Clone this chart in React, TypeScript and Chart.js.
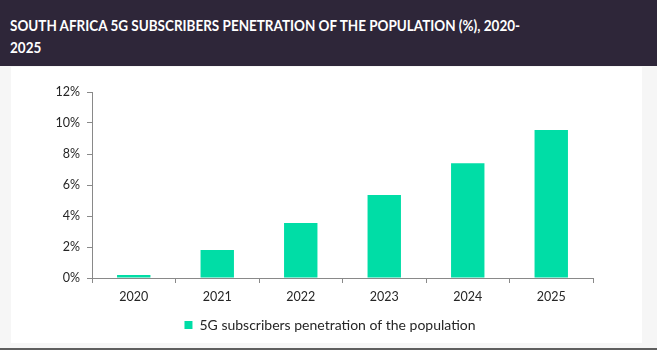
import React, { useEffect, useRef } from "react";
import { Chart, registerables } from "chart.js";

Chart.register(...registerables);

const titleLine1 = "SOUTH AFRICA 5G SUBSCRIBERS PENETRATION OF THE POPULATION (%), 2020-";
const titleLine2 = "2025";
const categories = ["2020", "2021", "2022", "2023", "2024", "2025"];
const seriesLabel = "5G subscribers penetration of the population";
const seriesValues = [0.2, 1.8, 3.55, 5.35, 7.4, 9.55];
const yTicks = [0, 2, 4, 6, 8, 10, 12];

const FONT = "Lato, 'Open Sans', sans-serif";
const AXIS_COLOR = "#898989";
const TEXT_COLOR = "#262626";
const BAR_COLOR = "#00DDA6";

export default function App() {
  const canvasRef = useRef<HTMLCanvasElement | null>(null);

  useEffect(() => {
    document.body.style.margin = "0";
    const ctx = canvasRef.current;
    if (!ctx) return;
    const chart = new Chart(ctx, {
      type: "bar",
      data: {
        labels: categories,
        datasets: [
          {
            label: seriesLabel,
            data: seriesValues,
            backgroundColor: BAR_COLOR,
            borderWidth: 0,
            barPercentage: 0.4,
            categoryPercentage: 1,
          },
        ],
      },
      options: {
        animation: false,
        responsive: false,
        maintainAspectRatio: false,
        devicePixelRatio: 1,
        layout: { padding: { top: 25, right: 0, left: 7, bottom: 1 } },
        plugins: {
          tooltip: { enabled: false },
          legend: {
            position: "bottom",
            labels: {
              boxWidth: 8,
              boxHeight: 8,
              padding: 10,
              color: TEXT_COLOR,
              font: { family: FONT, size: 14 },
            },
          },
        },
        scales: {
          x: {
            offset: true,
            grid: {
              offset: true,
              drawOnChartArea: false,
              drawTicks: true,
              tickLength: 5,
              color: AXIS_COLOR,
            },
            border: { display: true, color: AXIS_COLOR, width: 1 },
            ticks: {
              color: TEXT_COLOR,
              padding: 6,
              font: { family: FONT, size: 12.5 },
              maxRotation: 0,
            },
            afterFit: (s: any) => {
              s.height = 30;
            },
          },
          y: {
            position: "left",
            min: yTicks[0],
            max: yTicks[yTicks.length - 1],
            afterBuildTicks: (s: any) => {
              s.ticks = yTicks.map((v) => ({ value: v }));
            },
            grid: {
              drawOnChartArea: false,
              drawTicks: true,
              tickLength: 5,
              color: AXIS_COLOR,
            },
            border: { display: true, color: AXIS_COLOR, width: 1 },
            ticks: {
              color: TEXT_COLOR,
              padding: 7,
              font: { family: FONT, size: 12.5 },
              callback: (v: any) => `${v}%`,
            },
            afterFit: (s: any) => {
              s.width = 74;
            },
          },
          spacer: {
            type: "linear",
            position: "right",
            display: true,
            min: 0,
            max: 1,
            grid: { display: false, drawTicks: false },
            border: { display: false },
            ticks: { display: false },
            afterFit: (s: any) => {
              s.width = 49;
            },
          },
        },
      },
    });
    return () => chart.destroy();
  }, []);

  return (
    <div
      style={{
        position: "absolute",
        left: 0,
        top: 0,
        width: 657,
        height: 352,
        background: "#ffffff",
        overflow: "hidden",
      }}
    >
      <div
        style={{
          position: "absolute",
          left: 0,
          top: 66,
          width: 657,
          height: 282,
          background: "#f6f6f6",
        }}
      />
      <div
        style={{
          position: "absolute",
          left: 0,
          top: 348,
          width: 657,
          height: 2,
          background: "#5f5f5f",
        }}
      />
      <div
        style={{
          position: "absolute",
          left: 0,
          top: 0,
          width: 657,
          height: 66,
          background: "#2E2639",
        }}
      >
        <div
          style={{
            position: "absolute",
            left: 10,
            top: 14,
            color: "#ffffff",
            fontFamily: FONT,
            fontWeight: 700,
            fontSize: 15.5,
            lineHeight: "22px",
            whiteSpace: "nowrap",
            transform: "scaleX(0.87)",
            transformOrigin: "0 0",
          }}
        >
          <div>{titleLine1}</div>
          <div>{titleLine2}</div>
        </div>
      </div>
      <div
        style={{
          position: "absolute",
          left: 11,
          top: 67,
          width: 631,
          height: 276,
          background: "#ffffff",
        }}
      >
        <canvas ref={canvasRef} width={631} height={276} style={{ display: "block" }} />
      </div>
    </div>
  );
}
